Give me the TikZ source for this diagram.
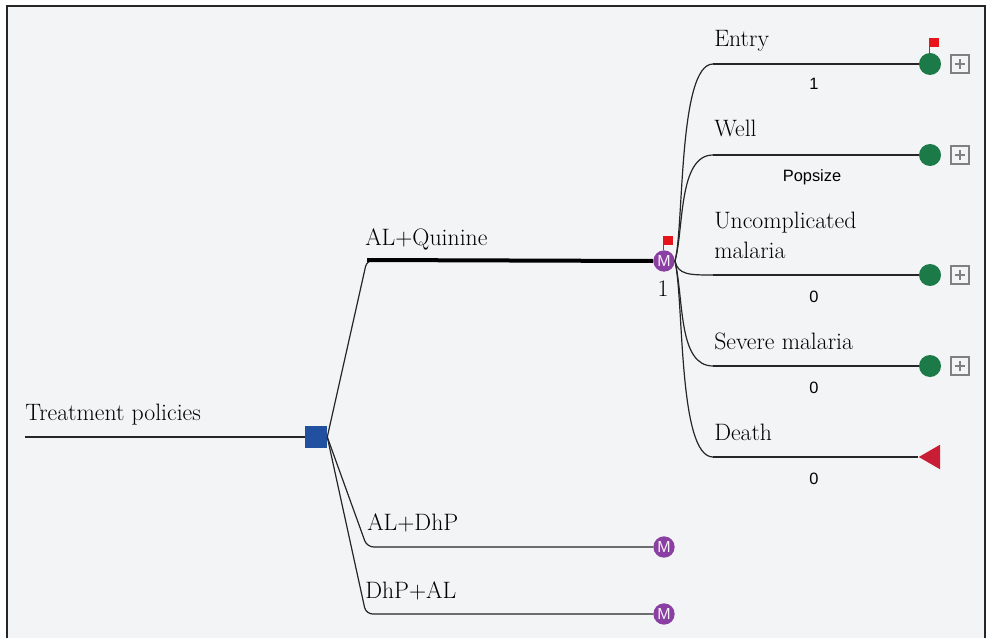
\documentclass[tikz,border=0pt]{standalone}
\usepackage{fontspec}
\newfontfamily\sansnum{Liberation Sans}
\usetikzlibrary{shapes.geometric}
\definecolor{bgc}{HTML}{F3F4F6}
\definecolor{decblue}{HTML}{2150A0}
\definecolor{markpurple}{HTML}{8A3FA2}
\definecolor{termgreen}{HTML}{1B7A48}
\definecolor{flagred}{HTML}{E8141C}
\definecolor{deathred}{HTML}{C81D35}
\definecolor{boxgray}{HTML}{808080}
\tikzset{
  lbl/.style={anchor=base west, inner sep=0pt, font=\fontsize{17.8}{20}\selectfont},
  val/.style={anchor=base, inner sep=0pt, font=\sansnum\fontsize{12.3}{14}\selectfont},
  branch/.style={draw=black!85, line width=0.9pt},
  markov/.style={circle, fill=markpurple, minimum size=16pt, inner sep=0pt, text=white!92!markpurple,
     font=\sansnum\fontsize{12}{12}\selectfont},
  term/.style={circle, fill=termgreen, minimum size=16.5pt, inner sep=0pt},
  decision/.style={rectangle, fill=decblue, minimum size=16.5pt, inner sep=0pt},
  plusbox/.style={rectangle, draw=boxgray, fill=bgc, line width=0.8pt, minimum size=13.5pt, inner sep=0pt},
  flag/.style={fill=flagred},
  deathtri/.style={isosceles triangle, shape border rotate=180, fill=deathred, isosceles triangle apex angle=60,
     minimum height=16pt, minimum width=17.5pt, inner sep=0pt}
}
\begin{document}
\begin{tikzpicture}[x=0.75pt,y=-0.75pt]
\useasboundingbox (0,0) rectangle (987,638);
\fill[white] (0,0) rectangle (987,638);
\fill[bgc] (7,6) rectangle (985,638);
\draw[black!85, line width=1.6pt] (7,638) -- (7,6) -- (985,6) -- (985,638);

% root
\coordinate (root) at (25,437);
\node[decision] (dec) at (316,437) {};
\draw[branch] (root) -- (dec.west);
\node[lbl] (tp) at (25,420) {Treatment policies};

% markov nodes
\node[markov] (m1) at (664,261) {M};
\node[markov] (m2) at (664,547) {M};
\node[markov] (m3) at (664,614) {M};

\coordinate (c1) at (367,260);
\coordinate (c2) at (367,547);
\coordinate (c3) at (366,614);
\draw[branch, rounded corners=5pt] (dec.east) -- (c1) -- ([xshift=-1pt]m1.west);
\draw[black, line width=3pt] (c1) -- (m1.west);
\draw[branch, rounded corners=5pt] (dec.east) -- (c2) -- (m2.west);
\draw[branch, rounded corners=5pt] (dec.east) -- (c3) -- (m3.west);

\node[lbl] (l1) at (365,245) {AL+Quinine};
\node[lbl] (l2) at (367,530) {AL+DhP};
\node[lbl] (l3) at (365,598) {DhP+AL};

\node[inner sep=0pt, anchor=base, font=\fontsize{17.8}{20}\selectfont] (one) at (663,296) {1};
\fill[flag] (663,236) rectangle (673,245);
\draw[flagred, line width=0.6pt] (663.5,236) -- (663.5,250);

% states
\coordinate (s1) at (713,64);
\coordinate (s2) at (713,155);
\coordinate (s3) at (713,275);
\coordinate (s4) at (713,366);
\coordinate (s5) at (713,457);
\draw[branch] (m1.east) .. controls (684,230) and (678,64) .. (s1);
\draw[branch] (m1.east) .. controls (684,230) and (678,155) .. (s2);
\draw[branch] (m1.east) .. controls (678,275) and (690,275) .. (s3);
\draw[branch] (m1.east) .. controls (684,300) and (678,366) .. (s4);
\draw[branch] (m1.east) .. controls (684,300) and (678,457) .. (s5);

\node[term] (t1) at (930,64) {};
\node[term] (t2) at (930,155) {};
\node[term] (t3) at (930,275) {};
\node[term] (t4) at (930,366) {};
\node[deathtri] (t5) at (933,457) {};

\draw[branch] (s1) -- (t1.west);
\draw[branch] (s2) -- (t2.west);
\draw[branch] (s3) -- (t3.west);
\draw[branch] (s4) -- (t4.west);
\draw[branch] (s5) -- (t5.west);

\fill[flag] (929,38) rectangle (939,47);
\draw[flagred, line width=0.6pt] (929.5,38) -- (929.5,53);

\foreach \nm/\yy in {p1/64, p2/155, p3/275, p4/366} {
  \node[plusbox] (\nm) at (960,\yy) {};
  \draw[boxgray, line width=0.8pt] ([xshift=-4pt]\nm.center) -- ([xshift=4pt]\nm.center)
     ([yshift=-4pt]\nm.center) -- ([yshift=4pt]\nm.center);
}

\node[lbl] (e1) at (714,47) {Entry};
\node[lbl] (e2) at (714,137) {Well};
\node[lbl] (e3a) at (714,228) {Uncomplicated};
\node[lbl] (e3b) at (714,258) {malaria};
\node[lbl] (e4) at (714,349) {Severe malaria};
\node[lbl] (e5) at (714,440) {Death};

\node[val] (v1) at (814,90) {1};
\node[val] (v2) at (812,181) {Popsize};
\node[val] (v3) at (814,302) {0};
\node[val] (v4) at (814,393) {0};
\node[val] (v5) at (814,484) {0};
\end{tikzpicture}
\end{document}
